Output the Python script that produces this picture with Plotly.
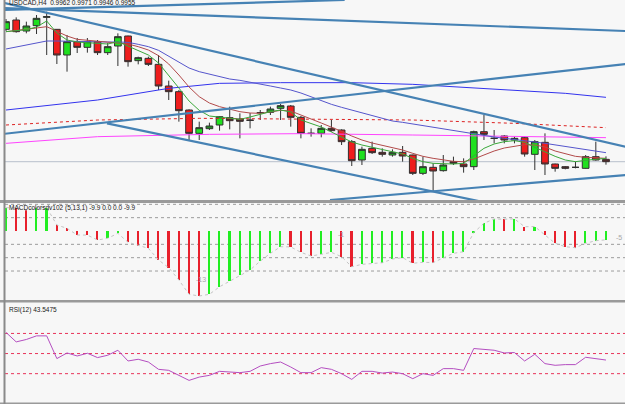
import plotly.graph_objects as go

# ---------------- data ----------------
idx = list(range(60))

open_ = [1.0352, 1.0380, 1.0347, 1.0363, 1.0388, 1.0352, 1.0275, 1.0315, 1.0298, 1.0315,
         1.0282, 1.0302, 1.0332, 1.0258, 1.0265, 1.0247, 1.0182, 1.0165, 1.0110, 1.0040,
         1.0054, 1.0065, 1.0087, 1.0083, 1.0080, 1.0102, 1.0103, 1.0115, 1.0122, 1.0088,
         1.0040, 1.0040, 1.0055, 1.0050, 1.0015, 0.9960, 0.9995, 0.9983, 0.9975, 0.9983,
         0.9975, 0.9920, 0.9938, 0.9928, 0.9955, 0.9948, 0.9940, 1.0045, 1.0025, 1.0032,
         1.0020, 1.0027, 0.9977, 1.0013, 0.9948, 0.9940, 0.9938, 0.9935, 0.9970, 0.9962]
high = [1.0383, 1.0388, 1.0375, 1.0395, 1.0405, 1.0353, 1.0335, 1.0326, 1.0326, 1.0320,
        1.0311, 1.0340, 1.0333, 1.0270, 1.0270, 1.0275, 1.0198, 1.0170, 1.0112, 1.0075,
        1.0072, 1.0092, 1.0120, 1.0100, 1.0101, 1.0110, 1.0120, 1.0128, 1.0125, 1.0092,
        1.0055, 1.0065, 1.0080, 1.0052, 1.0020, 1.0000, 1.0015, 0.9995, 0.9992, 1.0002,
        0.9976, 0.9970, 0.9950, 0.9975, 0.9970, 0.9965, 1.0048, 1.0095, 1.0050, 1.0035,
        1.0030, 1.0030, 1.0020, 1.0040, 0.9949, 0.9942, 0.9955, 0.9975, 1.0015, 0.9971]
low = [1.0347, 1.0342, 1.0340, 1.0338, 1.0275, 1.0248, 1.0225, 1.0281, 1.0282, 1.0275,
       1.0275, 1.0242, 1.0240, 1.0247, 1.0242, 1.0170, 1.0140, 1.0075, 1.0020, 1.0020,
       1.0050, 1.0048, 1.0052, 1.0025, 1.0055, 1.0080, 1.0095, 1.0080, 1.0060, 1.0025,
       1.0030, 1.0028, 1.0045, 1.0005, 0.9942, 0.9945, 0.9978, 0.9970, 0.9970, 0.9955,
       0.9915, 0.9915, 0.9865, 0.9925, 0.9945, 0.9922, 0.9930, 1.0020, 1.0010, 1.0010,
       1.0010, 0.9970, 0.9930, 0.9915, 0.9925, 0.9932, 0.9935, 0.9934, 0.9958, 0.9946]
close = [1.0375, 1.0345, 1.0362, 1.0385, 1.0390, 1.0275, 1.0315, 1.0298, 1.0315, 1.0282,
         1.0300, 1.0330, 1.0255, 1.0267, 1.0247, 1.0182, 1.0165, 1.0108, 1.0040, 1.0057,
         1.0062, 1.0090, 1.0078, 1.0076, 1.0079, 1.0102, 1.0113, 1.0123, 1.0088, 1.0040,
         1.0040, 1.0055, 1.0048, 1.0015, 0.9958, 0.9992, 0.9982, 0.9977, 0.9983, 0.9972,
         0.9920, 0.9940, 0.9927, 0.9945, 0.9950, 0.9940, 1.0045, 1.0037, 1.0025, 1.0020,
         1.0025, 0.9978, 1.0015, 0.9948, 0.9935, 0.9935, 0.9938, 0.9970, 0.9960, 0.9955]

ma_fast = [1.0345, 1.0348, 1.0351, 1.0359, 1.0377, 1.0341, 1.0320, 1.0314, 1.0312, 1.0311,
           1.0308, 1.0315, 1.0302, 1.0289, 1.0275, 1.0251, 1.0215, 1.0176, 1.0137, 1.0109,
           1.0092, 1.0088, 1.0085, 1.0082, 1.0089, 1.0098, 1.0105, 1.0110, 1.0104, 1.0080,
           1.0070, 1.0059, 1.0044, 1.0029, 1.0014, 1.0005, 0.9998, 0.9990, 0.9984, 0.9978,
           0.9965, 0.9955, 0.9950, 0.9948, 0.9948, 0.9950, 0.9972, 0.9995, 1.0008, 1.0015,
           1.0018, 1.0013, 0.9998, 0.9984, 0.9971, 0.9960, 0.9955, 0.9959, 0.9963, 0.9965]
ma_mid = [1.0345, 1.0348, 1.0351, 1.0356, 1.0360, 1.0347, 1.0332, 1.0322, 1.0319, 1.0315,
          1.0312, 1.0311, 1.0308, 1.0300, 1.0290, 1.0273, 1.0248, 1.0215, 1.0179, 1.0150,
          1.0131, 1.0120, 1.0113, 1.0105, 1.0101, 1.0100, 1.0104, 1.0109, 1.0107, 1.0096,
          1.0083, 1.0071, 1.0059, 1.0046, 1.0032, 1.0020, 1.0011, 1.0004, 0.9996, 0.9990,
          0.9980, 0.9971, 0.9965, 0.9960, 0.9956, 0.9955, 0.9963, 0.9975, 0.9987, 0.9996,
          1.0002, 1.0006, 1.0005, 0.9999, 0.9987, 0.9978, 0.9971, 0.9968, 0.9966, 0.9965]
ma_slow = [1.0293, 1.0299, 1.0305, 1.0311, 1.0317, 1.0317, 1.0316, 1.0315, 1.0314, 1.0314,
           1.0314, 1.0314, 1.0313, 1.0307, 1.0300, 1.0289, 1.0272, 1.0254, 1.0236, 1.0225,
           1.0217, 1.0209, 1.0203, 1.0199, 1.0194, 1.0188, 1.0182, 1.0176, 1.0170, 1.0161,
           1.0149, 1.0137, 1.0127, 1.0118, 1.0110, 1.0101, 1.0092, 1.0085, 1.0077, 1.0073,
           1.0068, 1.0064, 1.0059, 1.0053, 1.0047, 1.0043, 1.0038, 1.0034, 1.0029, 1.0025,
           1.0022, 1.0017, 1.0014, 1.0010, 1.0005, 1.0001, 0.9996, 0.9992, 0.9987, 0.9982]

ma_long_x = [0, 9, 16, 21, 27, 34, 40, 43, 50, 55, 59]
ma_long_y = [1.0110, 1.0140, 1.0175, 1.0190, 1.0192, 1.0192, 1.0187, 1.0182, 1.0169, 1.0160, 1.0148]
ma_red_x = [0, 9, 19, 29, 40, 50, 59]
ma_red_y = [1.0065, 1.0080, 1.0085, 1.0083, 1.0080, 1.0070, 1.0057]
ma_mag_x = [0, 9, 20, 29, 40, 59]
ma_mag_y = [1.0010, 1.0030, 1.0037, 1.0039, 1.0035, 1.0027]

trend_x = [[-0.6, 33.3], [-0.6, 60.9], [-0.6, 60.9], [-0.6, 60.9], [9.93, 46.6], [31.86, 60.9]]
trend_y = [[1.0410, 1.0440], [1.0416, 1.0347], [1.0434, 1.0000], [1.0037, 1.0248],
           [1.0070, 0.9836], [0.9840, 0.9915]]

macd = [26.2, 26.0, 23.6, 26.2, 26.4, 6.8, 3.0, -4.5, -4.6, -10.1,
        -8.2, -2.6, -12.7, -16.5, -19.5, -32.6, -41.3, -55.1, -71.2, -73.1,
        -71.2, -62.7, -56.3, -49.5, -43.9, -33.8, -25.1, -17.7, -17.9, -24.0,
        -28.1, -26.2, -24.0, -28.9, -40.2, -37.5, -36.3, -35.7, -31.5, -30.0,
        -36.3, -35.2, -35.5, -30.0, -25.1, -23.3, -1.7, 8.7, 13.5, 13.3,
        13.6, 4.8, 5.0, -4.5, -13.8, -17.7, -18.8, -13.8, -10.9, -9.9]
macd_levels = [30, 15, -15, -30, -45]
macd_marks = [(19.2, -54.5, "-13"), (32.9, -3.5, "-1"), (60.3, -7.5, "-5")]

rsi = [71.0, 61.6, 64.0, 67.6, 67.6, 45.0, 50.6, 47.6, 50.3, 46.0,
       48.3, 53.3, 42.6, 44.3, 41.6, 34.3, 33.3, 28.3, 23.3, 26.6,
       28.3, 32.3, 31.6, 31.0, 32.3, 37.6, 40.0, 41.6, 36.6, 31.0,
       31.0, 36.0, 34.3, 30.0, 24.3, 32.3, 32.3, 30.6, 31.6, 30.0,
       25.0, 30.0, 28.3, 35.0, 35.0, 33.3, 55.0, 54.3, 53.3, 50.6,
       51.0, 42.6, 49.3, 40.0, 38.3, 39.0, 39.0, 46.3, 45.0, 43.5475]
rsi_levels = [70, 50, 30]

symbol = "USDCAD,H4"
macd_title = "MACDcolorsdv102 (5,13,1) -9.9 0.0 0.0 -9.9"
rsi_title = "RSI(12) 43.5475"

# ---------------- layout geometry ----------------
W, H = 625, 404
def py(p):  # pixel row -> paper y
    return 1 - p / H

XR = [-0.1, 60.87]
FONT = "Liberation Sans"

fig = go.Figure()

# candles
fig.add_trace(go.Candlestick(
    x=idx, open=open_, high=high, low=low, close=close,
    xaxis="x", yaxis="y", whiskerwidth=0,
    increasing=dict(fillcolor="#1fe01f", line=dict(color="#303030", width=1)),
    decreasing=dict(fillcolor="#ee1d1d", line=dict(color="#303030", width=1)),
    showlegend=False, hoverinfo="skip"))

# moving averages
fig.add_trace(go.Scatter(x=ma_mag_x, y=ma_mag_y, mode="lines", line=dict(color="#ff44ff", width=1), xaxis="x", yaxis="y", showlegend=False, hoverinfo="skip"))
fig.add_trace(go.Scatter(x=ma_red_x, y=ma_red_y, mode="lines", line=dict(color="#dd2222", width=1, dash="dot"), xaxis="x", yaxis="y", showlegend=False, hoverinfo="skip"))
fig.add_trace(go.Scatter(x=ma_long_x, y=ma_long_y, mode="lines", line=dict(color="#3333ee", width=1), xaxis="x", yaxis="y", showlegend=False, hoverinfo="skip"))
fig.add_trace(go.Scatter(x=idx, y=ma_slow, mode="lines", line=dict(color="#5555cc", width=1), xaxis="x", yaxis="y", showlegend=False, hoverinfo="skip"))
fig.add_trace(go.Scatter(x=idx, y=ma_mid, mode="lines", line=dict(color="#b24a4a", width=1), xaxis="x", yaxis="y", showlegend=False, hoverinfo="skip"))
fig.add_trace(go.Scatter(x=idx, y=ma_fast, mode="lines", line=dict(color="#3aa83a", width=1), xaxis="x", yaxis="y", showlegend=False, hoverinfo="skip"))

# trend lines
for tx, ty in zip(trend_x, trend_y):
    fig.add_trace(go.Scatter(x=tx, y=ty, mode="lines", line=dict(color="#4682b4", width=2.2),
                             xaxis="x", yaxis="y", showlegend=False, hoverinfo="skip"))

# MACD histogram
colors = ["#22ee22"]
for i in range(1, len(macd)):
    colors.append("#22ee22" if macd[i] > macd[i - 1] else "#e8202c")
fig.add_trace(go.Bar(x=idx, y=macd, marker=dict(color=colors, line=dict(width=0)), width=0.16,
                     xaxis="x2", yaxis="y2", showlegend=False, hoverinfo="skip"))
fig.add_trace(go.Scatter(x=idx, y=macd, mode="lines", line=dict(color="#c4c4c4", width=1, dash="dot"),
                         xaxis="x2", yaxis="y2", showlegend=False, hoverinfo="skip"))

# RSI
fig.add_trace(go.Scatter(x=idx, y=rsi, mode="lines", line=dict(color="#b44ec0", width=1),
                         xaxis="x3", yaxis="y3", showlegend=False, hoverinfo="skip"))

shapes = []
# bid line
shapes.append(dict(type="line", xref="x", yref="y", x0=XR[0], x1=XR[1], y0=close[-1], y1=close[-1],
                   line=dict(color="#c4cad4", width=1.2), layer="below"))
for lv in macd_levels:
    shapes.append(dict(type="line", xref="x2", yref="y2", x0=XR[0], x1=XR[1], y0=lv, y1=lv,
                       line=dict(color="#9c9c9c", width=1, dash="dot"), layer="below"))
for lv in rsi_levels:
    shapes.append(dict(type="line", xref="x3", yref="y3", x0=XR[0], x1=XR[1], y0=lv, y1=lv,
                       line=dict(color="#e8345a", width=1, dash="dot"), layer="below"))
# separators and borders
for a, b in [(200, 203), (300, 302.5), (402.5, 404)]:
    shapes.append(dict(type="rect", xref="paper", yref="paper", x0=0, x1=1, y0=py(b), y1=py(a),
                       fillcolor="#9a9a9a", line=dict(width=0)))
shapes.append(dict(type="rect", xref="paper", yref="paper", x0=3.5 / W, x1=5.5 / W, y0=0, y1=1,
                   fillcolor="#8a8a8a", line=dict(width=0)))

annotations = [
    dict(text=f"{symbol}  {open_[-1]:.4f} {high[-1]:.4f} {low[-1]:.4f} {close[-1]:.4f}",
         xref="paper", yref="paper", x=7 / W, y=py(2.5), xanchor="left", yanchor="middle",
         showarrow=False, font=dict(family=FONT, size=6.5, color="#202020")),
    dict(text=macd_title, xref="paper", yref="paper", x=7 / W, y=py(208), xanchor="left", yanchor="middle",
         showarrow=False, font=dict(family=FONT, size=6.5, color="#202020")),
    dict(text=rsi_title, xref="paper", yref="paper", x=7 / W, y=py(310), xanchor="left", yanchor="middle",
         showarrow=False, font=dict(family=FONT, size=6.5, color="#202020")),
]
for mx, my, mt in macd_marks:
    annotations.append(dict(text=mt, xref="x2", yref="y2", x=mx, y=my, showarrow=False,
                            font=dict(family=FONT, size=7, color="#a8a8a8")))

ax = dict(domain=[5 / W, 1], range=XR, showticklabels=False, showgrid=False, zeroline=False,
          showline=False, ticks="", fixedrange=True)
ay = dict(showticklabels=False, showgrid=False, zeroline=False, showline=False, ticks="", fixedrange=True)

fig.update_layout(
    width=W, height=H, margin=dict(l=0, r=0, t=0, b=0),
    paper_bgcolor="#f7f7f7", plot_bgcolor="#f7f7f7",
    boxgap=0.34, boxgroupgap=0, bargap=0, showlegend=False,
    xaxis=dict(ax, anchor="y", rangeslider=dict(visible=False)),
    xaxis2=dict(ax, anchor="y2"),
    xaxis3=dict(ax, anchor="y3"),
    yaxis=dict(ay, domain=[py(200), 1], range=[0.9840, 1.0440], anchor="x"),
    yaxis2=dict(ay, domain=[py(300), py(203)], range=[-77.6, 31.5], anchor="x2"),
    yaxis3=dict(ay, domain=[py(402.5), py(302.5)], range=[1.3, 100.8], anchor="x3"),
    shapes=shapes, annotations=annotations,
)

fig.write_html("out.html")
